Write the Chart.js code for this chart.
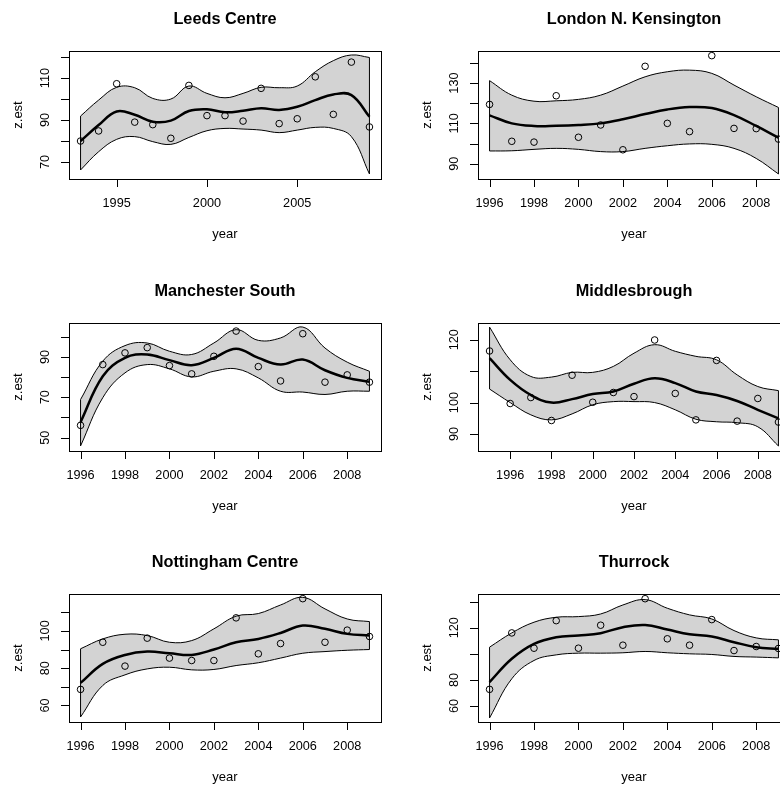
<!DOCTYPE html>
<html>
<head>
<meta charset="utf-8">
<title>z.est by year</title>
<script src="https://cdn.jsdelivr.net/npm/chart.js@4.4.1/dist/chart.umd.min.js"></script>
<style>
  html, body { margin: 0; padding: 0; background: #fff; }
  #page { position: relative; width: 780px; height: 788px; overflow: hidden; background: #fff; }
  #page canvas { position: absolute; }
</style>
</head>
<body>
<div id="page"></div>
<script>
// years
var years93 = [1993, 1994, 1995, 1996, 1997, 1998, 1999, 2000, 2001, 2002, 2003, 2004, 2005, 2006, 2007, 2008, 2009];
var years95 = [1995, 1996, 1997, 1998, 1999, 2000, 2001, 2002, 2003, 2004, 2005, 2006, 2007, 2008, 2009];
var years96 = [1996, 1997, 1998, 1999, 2000, 2001, 2002, 2003, 2004, 2005, 2006, 2007, 2008, 2009];

// Leeds Centre
var leedsObs   = [80.0, 84.8, 107.3, 89.0, 87.8, 81.3, 106.5, 92.1, 92.1, 89.5, 105.1, 88.3, 90.6, 110.6, 92.7, 117.6, 86.7];
var leedsFit   = [80.0, 87.6, 94.1, 92.5, 89.2, 89.7, 94.3, 95.1, 93.7, 94.4, 95.6, 94.8, 96.3, 99.5, 102.2, 101.9, 91.6];
var leedsUpper = [91.9, 99.5, 105.6, 105.4, 100.3, 100.0, 106.2, 102.7, 100.6, 102.7, 105.6, 105.4, 106.2, 113.0, 118.3, 121.0, 119.8];
var leedsLower = [66.2, 74.9, 80.8, 82.1, 79.7, 78.4, 81.7, 84.9, 86.0, 85.7, 85.2, 84.0, 85.2, 86.5, 86.0, 82.1, 64.3];

// London N. Kensington
var londonObs   = [119.4, 101.1, 100.7, 123.7, 103.1, 109.2, 96.9, 138.3, 110.0, 105.9, 143.6, 107.5, 107.4, 102.2];
var londonFit   = [114.0, 110.0, 108.7, 108.8, 109.2, 110.0, 112.0, 114.6, 116.9, 118.1, 117.6, 114.1, 108.7, 102.9];
var londonUpper = [131.2, 124.0, 121.0, 121.2, 121.9, 124.0, 128.5, 133.1, 135.6, 136.4, 134.8, 129.0, 123.2, 117.9];
var londonLower = [96.3, 96.4, 97.1, 97.6, 97.1, 96.0, 96.0, 97.6, 98.9, 99.8, 99.6, 97.6, 92.6, 84.9];

// Manchester South
var manchObs   = [56.1, 86.2, 92.0, 94.6, 85.7, 81.6, 90.3, 102.8, 85.2, 78.1, 101.5, 77.5, 81.1, 77.5];
var manchFit   = [57.7, 80.4, 89.5, 91.2, 88.4, 85.9, 89.5, 94.1, 89.5, 86.2, 88.7, 83.4, 79.6, 77.7];
var manchUpper = [68.9, 87.9, 95.6, 96.9, 92.8, 91.2, 96.9, 103.5, 98.2, 99.4, 104.8, 94.4, 87.4, 82.9];
var manchLower = [45.9, 69.8, 82.1, 86.2, 84.1, 80.1, 82.9, 84.1, 79.6, 73.0, 72.6, 71.4, 73.0, 73.0];

// Middlesbrough
var middObs   = [116.4, 99.7, 101.6, 94.3, 108.7, 100.1, 103.2, 101.9, 119.9, 102.9, 94.5, 113.4, 94.1, 101.3, 93.8];
var middFit   = [114.1, 107.2, 102.4, 100.0, 101.1, 102.7, 103.5, 106.0, 107.7, 106.2, 103.5, 102.4, 100.5, 97.7, 95.0];
var middUpper = [124.0, 113.6, 108.3, 108.1, 109.6, 109.6, 111.5, 115.7, 118.4, 116.3, 114.7, 113.6, 108.8, 105.1, 103.8];
var middLower = [104.3, 100.0, 96.1, 94.5, 96.4, 99.3, 100.3, 100.3, 100.0, 97.7, 94.7, 93.9, 93.6, 92.3, 86.2];

// Nottingham Centre
var nottObs   = [68.6, 93.9, 81.1, 96.1, 85.4, 84.1, 84.1, 107.0, 87.7, 93.2, 117.3, 93.9, 100.4, 97.0];
var nottFit   = [72.1, 82.3, 87.1, 88.9, 88.0, 87.1, 90.0, 93.9, 95.7, 98.9, 102.9, 101.1, 98.4, 97.5];
var nottUpper = [90.4, 95.7, 98.2, 97.5, 93.9, 94.8, 101.1, 107.9, 109.3, 113.9, 118.0, 111.8, 106.4, 105.0];
var nottLower = [53.8, 70.7, 76.4, 79.6, 80.5, 79.1, 79.3, 81.4, 82.9, 85.4, 88.0, 88.9, 89.6, 90.0];

// Thurrock
var thurObs   = [72.8, 116.0, 104.3, 125.4, 104.3, 121.9, 106.6, 142.2, 111.5, 106.6, 126.2, 102.5, 105.6, 104.1];
var thurFit   = [78.4, 96.2, 107.6, 112.7, 114.0, 115.8, 120.4, 122.1, 118.6, 115.0, 113.2, 108.9, 105.1, 103.8];
var thurUpper = [105.1, 116.0, 124.2, 128.0, 128.5, 130.5, 137.4, 141.5, 134.9, 129.8, 126.7, 117.8, 112.2, 110.7];
var thurLower = [50.9, 80.9, 94.9, 99.2, 100.5, 100.5, 100.8, 101.8, 100.8, 100.0, 99.5, 98.0, 97.5, 96.9];

// axis ticks
var xTicks5 = [1995, 2000, 2005];
var xTicks2 = [1996, 1998, 2000, 2002, 2004, 2006, 2008];
var leedsYTicks = [70, 80, 90, 100, 110, 120],  leedsYLabels = [70, 90, 110];
var londonYTicks = [90, 100, 110, 120, 130, 140], londonYLabels = [90, 110, 130];
var manchYTicks = [50, 60, 70, 80, 90, 100],    manchYLabels = [50, 70, 90];
var middYTicks = [90, 100, 110, 120],           middYLabels = [90, 100, 120];
var nottYTicks = [60, 70, 80, 90, 100, 110],    nottYLabels = [60, 80, 100];
var thurYTicks = [60, 80, 100, 120, 140],       thurYLabels = [60, 80, 120];

var panels = [
    { title: 'Leeds Centre', years: years93, obs: leedsObs, fit: leedsFit, upper: leedsUpper, lower: leedsLower,
      xTicks: xTicks5, yTicks: leedsYTicks, yLabels: leedsYLabels, yMin: 61.9, yMax: 122.9 },
    { title: 'London N. Kensington', years: years96, obs: londonObs, fit: londonFit, upper: londonUpper, lower: londonLower,
      xTicks: xTicks2, yTicks: londonYTicks, yLabels: londonYLabels, yMin: 82.4, yMax: 145.9 },
    { title: 'Manchester South', years: years96, obs: manchObs, fit: manchFit, upper: manchUpper, lower: manchLower,
      xTicks: xTicks2, yTicks: manchYTicks, yLabels: manchYLabels, yMin: 43.4, yMax: 106.8 },
    { title: 'Middlesbrough', years: years95, obs: middObs, fit: middFit, upper: middUpper, lower: middLower,
      xTicks: xTicks2, yTicks: middYTicks, yLabels: middYLabels, yMin: 84.6, yMax: 125.3 },
    { title: 'Nottingham Centre', years: years96, obs: nottObs, fit: nottFit, upper: nottUpper, lower: nottLower,
      xTicks: xTicks2, yTicks: nottYTicks, yLabels: nottYLabels, yMin: 51.1, yMax: 119.8 },
    { title: 'Thurrock', years: years96, obs: thurObs, fit: thurFit, upper: thurUpper, lower: thurLower,
      xTicks: xTicks2, yTicks: thurYTicks, yLabels: thurYLabels, yMin: 47.8, yMax: 145.8 }
];

var FONT = '"Liberation Sans", Arial, Helvetica, sans-serif';

function pts(xs, ys) {
    return xs.map(function (x, i) { return { x: x, y: ys[i] }; });
}

// box, ticks, labels and title drawn in base-graphics style
var rFrame = {
    id: 'rFrame',
    afterDraw: function (chart, args, opts) {
        var ctx = chart.ctx, a = chart.chartArea;
        var xs = chart.scales.x, ys = chart.scales.y;
        ctx.save();
        ctx.strokeStyle = '#000';
        ctx.fillStyle = '#000';
        ctx.lineWidth = 1;
        ctx.strokeRect(Math.round(a.left) + 0.5, Math.round(a.top) + 0.5,
                       Math.round(a.right - a.left), Math.round(a.bottom - a.top));

        ctx.beginPath();
        opts.xTicks.forEach(function (v) {
            var px = Math.round(xs.getPixelForValue(v)) + 0.5;
            ctx.moveTo(px, a.bottom);
            ctx.lineTo(px, a.bottom + 8);
        });
        opts.yTicks.forEach(function (v) {
            var py = Math.round(ys.getPixelForValue(v)) + 0.5;
            ctx.moveTo(a.left, py);
            ctx.lineTo(a.left - 8, py);
        });
        ctx.stroke();

        ctx.font = '12.7px ' + FONT;
        ctx.textAlign = 'center';
        ctx.textBaseline = 'middle';
        opts.xTicks.forEach(function (v) {
            ctx.fillText(String(v), xs.getPixelForValue(v), a.bottom + 24);
        });
        opts.yLabels.forEach(function (v) {
            ctx.save();
            ctx.translate(a.left - 24, ys.getPixelForValue(v));
            ctx.rotate(-Math.PI / 2);
            ctx.fillText(String(v), 0, 0);
            ctx.restore();
        });

        ctx.font = '13px ' + FONT;
        ctx.fillText('year', (a.left + a.right) / 2, a.bottom + 55);
        ctx.save();
        ctx.translate(a.left - 51, (a.top + a.bottom) / 2);
        ctx.rotate(-Math.PI / 2);
        ctx.fillText('z.est', 0, 0);
        ctx.restore();

        ctx.font = 'bold 16.3px ' + FONT;
        ctx.fillText(opts.title, (a.left + a.right) / 2, 19.5);
        ctx.restore();
    }
};

var page = document.getElementById('page');

panels.forEach(function (p, i) {
    var canvas = document.createElement('canvas');
    canvas.width = 408;
    canvas.height = 272;
    canvas.style.left = (i % 2) * 409 + 'px';
    canvas.style.top = Math.round(Math.floor(i / 2) * 271.6) + 'px';
    page.appendChild(canvas);

    var first = p.years[0], last = p.years[p.years.length - 1];
    var pad = (last - first) * 0.04;

    new Chart(canvas.getContext('2d'), {
        type: 'line',
        data: {
            datasets: [
                {   // upper limit, band filled down to the lower limit
                    data: pts(p.years, p.upper), borderColor: '#000', borderWidth: 1,
                    backgroundColor: '#d3d3d3', fill: '+1', pointRadius: 0, tension: 0.4, order: 4
                },
                {
                    data: pts(p.years, p.lower), borderColor: '#000', borderWidth: 1,
                    fill: false, pointRadius: 0, tension: 0.4, order: 3
                },
                {   // closing edges of the band
                    data: [{ x: first, y: p.lower[0] }, { x: first, y: p.upper[0] }],
                    borderColor: '#000', borderWidth: 1, fill: false, pointRadius: 0, order: 3
                },
                {
                    data: [{ x: last, y: p.lower[p.lower.length - 1] }, { x: last, y: p.upper[p.upper.length - 1] }],
                    borderColor: '#000', borderWidth: 1, fill: false, pointRadius: 0, order: 3
                },
                {   // smooth fit
                    data: pts(p.years, p.fit), borderColor: '#000', borderWidth: 2.5,
                    fill: false, pointRadius: 0, tension: 0.4, order: 1
                },
                {   // observed values
                    data: pts(p.years, p.obs), showLine: false, fill: false,
                    pointRadius: 3.3, pointBorderWidth: 1, pointBorderColor: '#000',
                    pointBackgroundColor: 'rgba(0,0,0,0)', order: 0
                }
            ]
        },
        options: {
            responsive: false,
            animation: false,
            events: [],
            layout: { padding: { left: 69, top: 51, right: 27, bottom: 93 } },
            scales: {
                x: { type: 'linear', display: false, min: first - pad, max: last + pad },
                y: { type: 'linear', display: false, min: p.yMin, max: p.yMax }
            },
            plugins: {
                legend: { display: false },
                tooltip: { enabled: false },
                rFrame: { title: p.title, xTicks: p.xTicks, yTicks: p.yTicks, yLabels: p.yLabels }
            }
        },
        plugins: [rFrame]
    });
});
</script>
</body>
</html>
